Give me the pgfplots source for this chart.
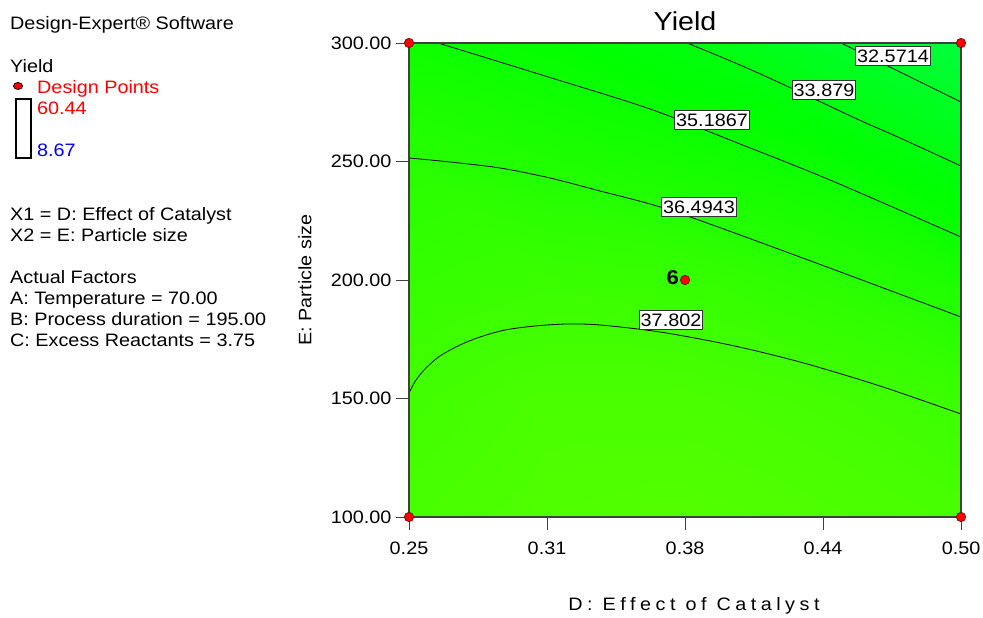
\documentclass[border=0pt]{standalone}
\usepackage{pgfplots}
\pgfplotsset{compat=1.18}
\usepackage{fontspec}
\setmainfont{Liberation Sans}[FakeStretch=1.1]
\newcommand\fs{\fontsize{18bp}{21bp}\selectfont}
\begin{document}
\begin{tikzpicture}[x=1bp,y=1bp]
\path[use as bounding box] (0,0) rectangle (983,618);
\begin{axis}[
  at={(409bp,101bp)}, anchor=south west,
  width=552bp, height=474bp, scale only axis,
  xmin=0.25, xmax=0.5, ymin=100, ymax=300,
  xtick={0.25,0.3125,0.375,0.4375,0.5},
  xticklabels={0.25,0.31,0.38,0.44,0.50},
  ytick={100,150,200,250,300},
  yticklabels={100.00,150.00,200.00,250.00,300.00},
  xtick pos=left, ytick pos=left,
  tick align=outside, major tick length=13bp,
  tick style={black!75, line width=0.9bp},
  axis line style={draw=none},
  ticklabel style={font=\fs},
  xticklabel style={yshift=-8bp},
  yticklabel style={xshift=-1bp},
  clip=false,
  colormap={de}{rgb255(0cm)=(0,0,255); rgb255(1cm)=(0,255,255); rgb255(2cm)=(0,255,0); rgb255(3cm)=(255,255,0); rgb255(4cm)=(255,0,0)},
  point meta min=8.67, point meta max=60.44,
]
% estimated response surface (for colour only)
\addplot[surf, shader=interp, mesh/cols=5, point meta=explicit] table[meta=z] {
x y z
0.25 100 38.2
0.3125 100 38.6
0.375 100 38.7
0.4375 100 38.5
0.5 100 38.2
0.25 150 37.85
0.3125 150 38.3
0.375 150 38.3
0.4375 150 38.0
0.5 150 37.5
0.25 200 37.2
0.3125 200 37.5
0.375 200 37.3
0.4375 200 36.7
0.5 200 35.9
0.25 250 36.55
0.3125 250 36.1
0.375 250 35.6
0.4375 250 35.0
0.5 250 33.8
0.25 300 35.3
0.3125 300 34.7
0.375 300 33.9
0.4375 300 32.7
0.5 300 31.5
};
% contour lines
\addplot[black, line width=0.8bp, smooth] coordinates {(0.44565,300) (0.47237,287.76) (0.5,275.1)};
\addplot[black, line width=0.8bp, smooth] coordinates {(0.37591,300) (0.39991,290.72) (0.42301,281.01) (0.45290,267.93) (0.47237,259.92) (0.5,248.10)};
\addplot[black, line width=0.8bp, smooth] coordinates {(0.26313,300) (0.31159,286.08) (0.35915,272.15) (0.39991,257.38) (0.44067,242.19) (0.5,218.14)};
\addplot[black, line width=0.8bp, smooth] coordinates {(0.25,251.48) (0.26857,249.79) (0.29121,247.26) (0.31386,243.04) (0.33650,237.55) (0.35915,232.07) (0.37862,226.16) (0.42708,209.70) (0.5,184.39)};
\addplot[black, line width=0.8bp, smooth] coordinates {(0.25,152.32) (0.25317,157.81) (0.25770,162.87) (0.26404,167.93) (0.27310,172.57) (0.28216,175.95) (0.29348,178.90) (0.30707,180.59) (0.32156,181.43) (0.33650,181.01) (0.36368,178.06) (0.39538,172.57) (0.42708,165.40) (0.46332,155.27) (0.5,143.46)};
% frame
\draw[black!75, line width=1.2bp] (rel axis cs:0,0) rectangle (rel axis cs:1,1);
% contour labels
\tikzset{clab/.style={draw=black!80, fill=white, line width=0.8bp, inner xsep=1.5bp, inner ysep=3.5bp, font=\fs}}
\node[clab] at (axis cs:0.46920,294.51) {32.5714};
\node[clab] at (axis cs:0.43795,280.17) {33.879};
\node[clab] at (axis cs:0.38723,267.51) {35.1867};
\node[clab] at (axis cs:0.38134,230.80) {36.4943};
\node[clab] at (axis cs:0.36866,183.12) {37.802};
% design points
\addplot[only marks, mark=*, mark size=4.7bp, mark options={fill=red, draw=black!60!red, line width=0.6bp}] coordinates {(0.25,100) (0.25,300) (0.5,100) (0.5,300) (0.375,200)};
\node[anchor=base east, inner sep=0pt, font=\fontsize{20bp}{24bp}\selectfont\bfseries] at (axis cs:0.375,200) [xshift=-6bp, yshift=-5bp] {6};
\end{axis}
% title and axis labels
\node[font=\fontsize{26bp}{30bp}\selectfont] at (685,597) {Yield};
\node[font=\fs\addfontfeature{LetterSpace=25}] at (694,12) {D: Effect of Catalyst};
\node[font=\fs, rotate=90] at (305,338) {E: Particle size};
% left side information
\tikzset{info/.style={anchor=base west, inner sep=0pt, font=\fs}}
\node[info] at (10,588) {Design-Expert® Software};
\node[info] at (10,545) {Yield};
\filldraw[fill=red, draw=black, line width=0.8bp] (18,532) ellipse [x radius=4.5, y radius=3.5];
\node[info, text=red] at (37,524) {Design Points};
\draw[black, line width=2bp] (16,460) rectangle (31,519);
\node[info, text=red] at (37,503) {60.44};
\node[info, text=blue] at (37,461) {8.67};
\node[info] at (10,397) {X1 = D: Effect of Catalyst};
\node[info] at (10,376) {X2 = E: Particle size};
\node[info] at (10,334) {Actual Factors};
\node[info] at (10,313) {A: Temperature = 70.00};
\node[info] at (10,292) {B: Process duration = 195.00};
\node[info] at (10,271) {C: Excess Reactants = 3.75};
\end{tikzpicture}
\end{document}
